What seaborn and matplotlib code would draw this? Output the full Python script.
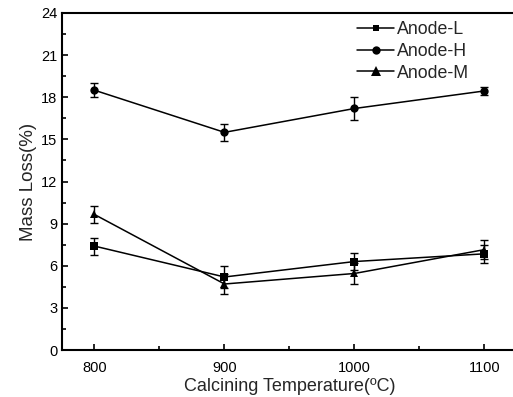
import matplotlib
matplotlib.use("Agg")
import matplotlib.pyplot as plt
import seaborn as sns
import pandas as pd
from matplotlib.ticker import MultipleLocator

temps = [800, 900, 1000, 1100]
series_names = ["Anode-L", "Anode-H", "Anode-M"]
anode_l = [7.4, 5.2, 6.3, 6.85]
anode_l_err = [0.6, 0.8, 0.6, 0.65]
anode_h = [18.5, 15.5, 17.2, 18.45]
anode_h_err = [0.5, 0.6, 0.8, 0.3]
anode_m = [9.65, 4.7, 5.45, 7.15]
anode_m_err = [0.6, 0.7, 0.75, 0.65]

sns.set_theme(style="ticks")
plt.rcParams["font.family"] = ["Liberation Sans", "DejaVu Sans"]

rows = []
for name, vals in zip(series_names, [anode_l, anode_h, anode_m]):
    for t, v in zip(temps, vals):
        rows.append({"Temperature": t, "Loss": v, "Series": name})
df = pd.DataFrame(rows)

fig = plt.figure(figsize=(5.13, 3.97), dpi=100)
W, H = 513, 397
x0, x1 = 775, 1125
px_per = 1.3
left = 62
right = left + (x1 - x0) * px_per
ax = fig.add_axes([left / W, (H - 350) / H, (right - left) / W, (350 - 13) / H])

markers = {"Anode-L": "s", "Anode-H": "o", "Anode-M": "^"}
msizes = {"Anode-L": 7, "Anode-H": 8, "Anode-M": 8}
for name, vals, errs in zip(series_names, [anode_l, anode_h, anode_m],
                            [anode_l_err, anode_h_err, anode_m_err]):
    ax.errorbar(temps, vals, yerr=errs, fmt="none", ecolor="black",
                elinewidth=1.0, capsize=3, capthick=1.0, zorder=2)
sns.lineplot(data=df, x="Temperature", y="Loss", hue="Series", style="Series",
             markers=markers, dashes=False, palette=["black"] * 3,
             linewidth=1.1, markeredgewidth=0, ax=ax, zorder=3,
             hue_order=series_names, style_order=series_names)
for line in ax.get_lines():
    lbl = line.get_label()
    if lbl in msizes:
        line.set_markersize(msizes[lbl])

ax.set_xlim(x0, x1)
ax.set_ylim(0, 24)
ax.set_xticks(temps)
ax.xaxis.set_minor_locator(MultipleLocator(50))
ax.yaxis.set_major_locator(MultipleLocator(3))
ax.yaxis.set_minor_locator(MultipleLocator(1.5))
ax.tick_params(which="both", direction="in", labelsize=10.5, color="black",
               labelcolor="black", width=1.2)
ax.tick_params(which="major", length=4.5)
ax.tick_params(which="minor", length=3)
ax.tick_params(axis="x", pad=8)
for s in ax.spines.values():
    s.set_linewidth(1.5)
    s.set_color("black")
ax.set_xlabel("Calcining Temperature(\u00baC)", fontsize=13, labelpad=2)
ax.set_ylabel("Mass Loss(%)", fontsize=13.5, labelpad=3)

handles, labels = ax.get_legend_handles_labels()
leg = ax.legend(handles, labels, loc="upper left",
                bbox_to_anchor=((357 - left) / (right - left), 1 - 8 / 337),
                frameon=False, fontsize=12.8, handlelength=2.1, handletextpad=0.15,
                labelspacing=0.27, borderaxespad=0, borderpad=0)
lsizes = {"Anode-L": 5, "Anode-H": 6, "Anode-M": 6.5}
for h, lbl in zip(leg.legend_handles, labels):
    h.set_color("black")
    h.set_markersize(lsizes.get(lbl, 6))

fig.savefig("out.png", dpi=100)
